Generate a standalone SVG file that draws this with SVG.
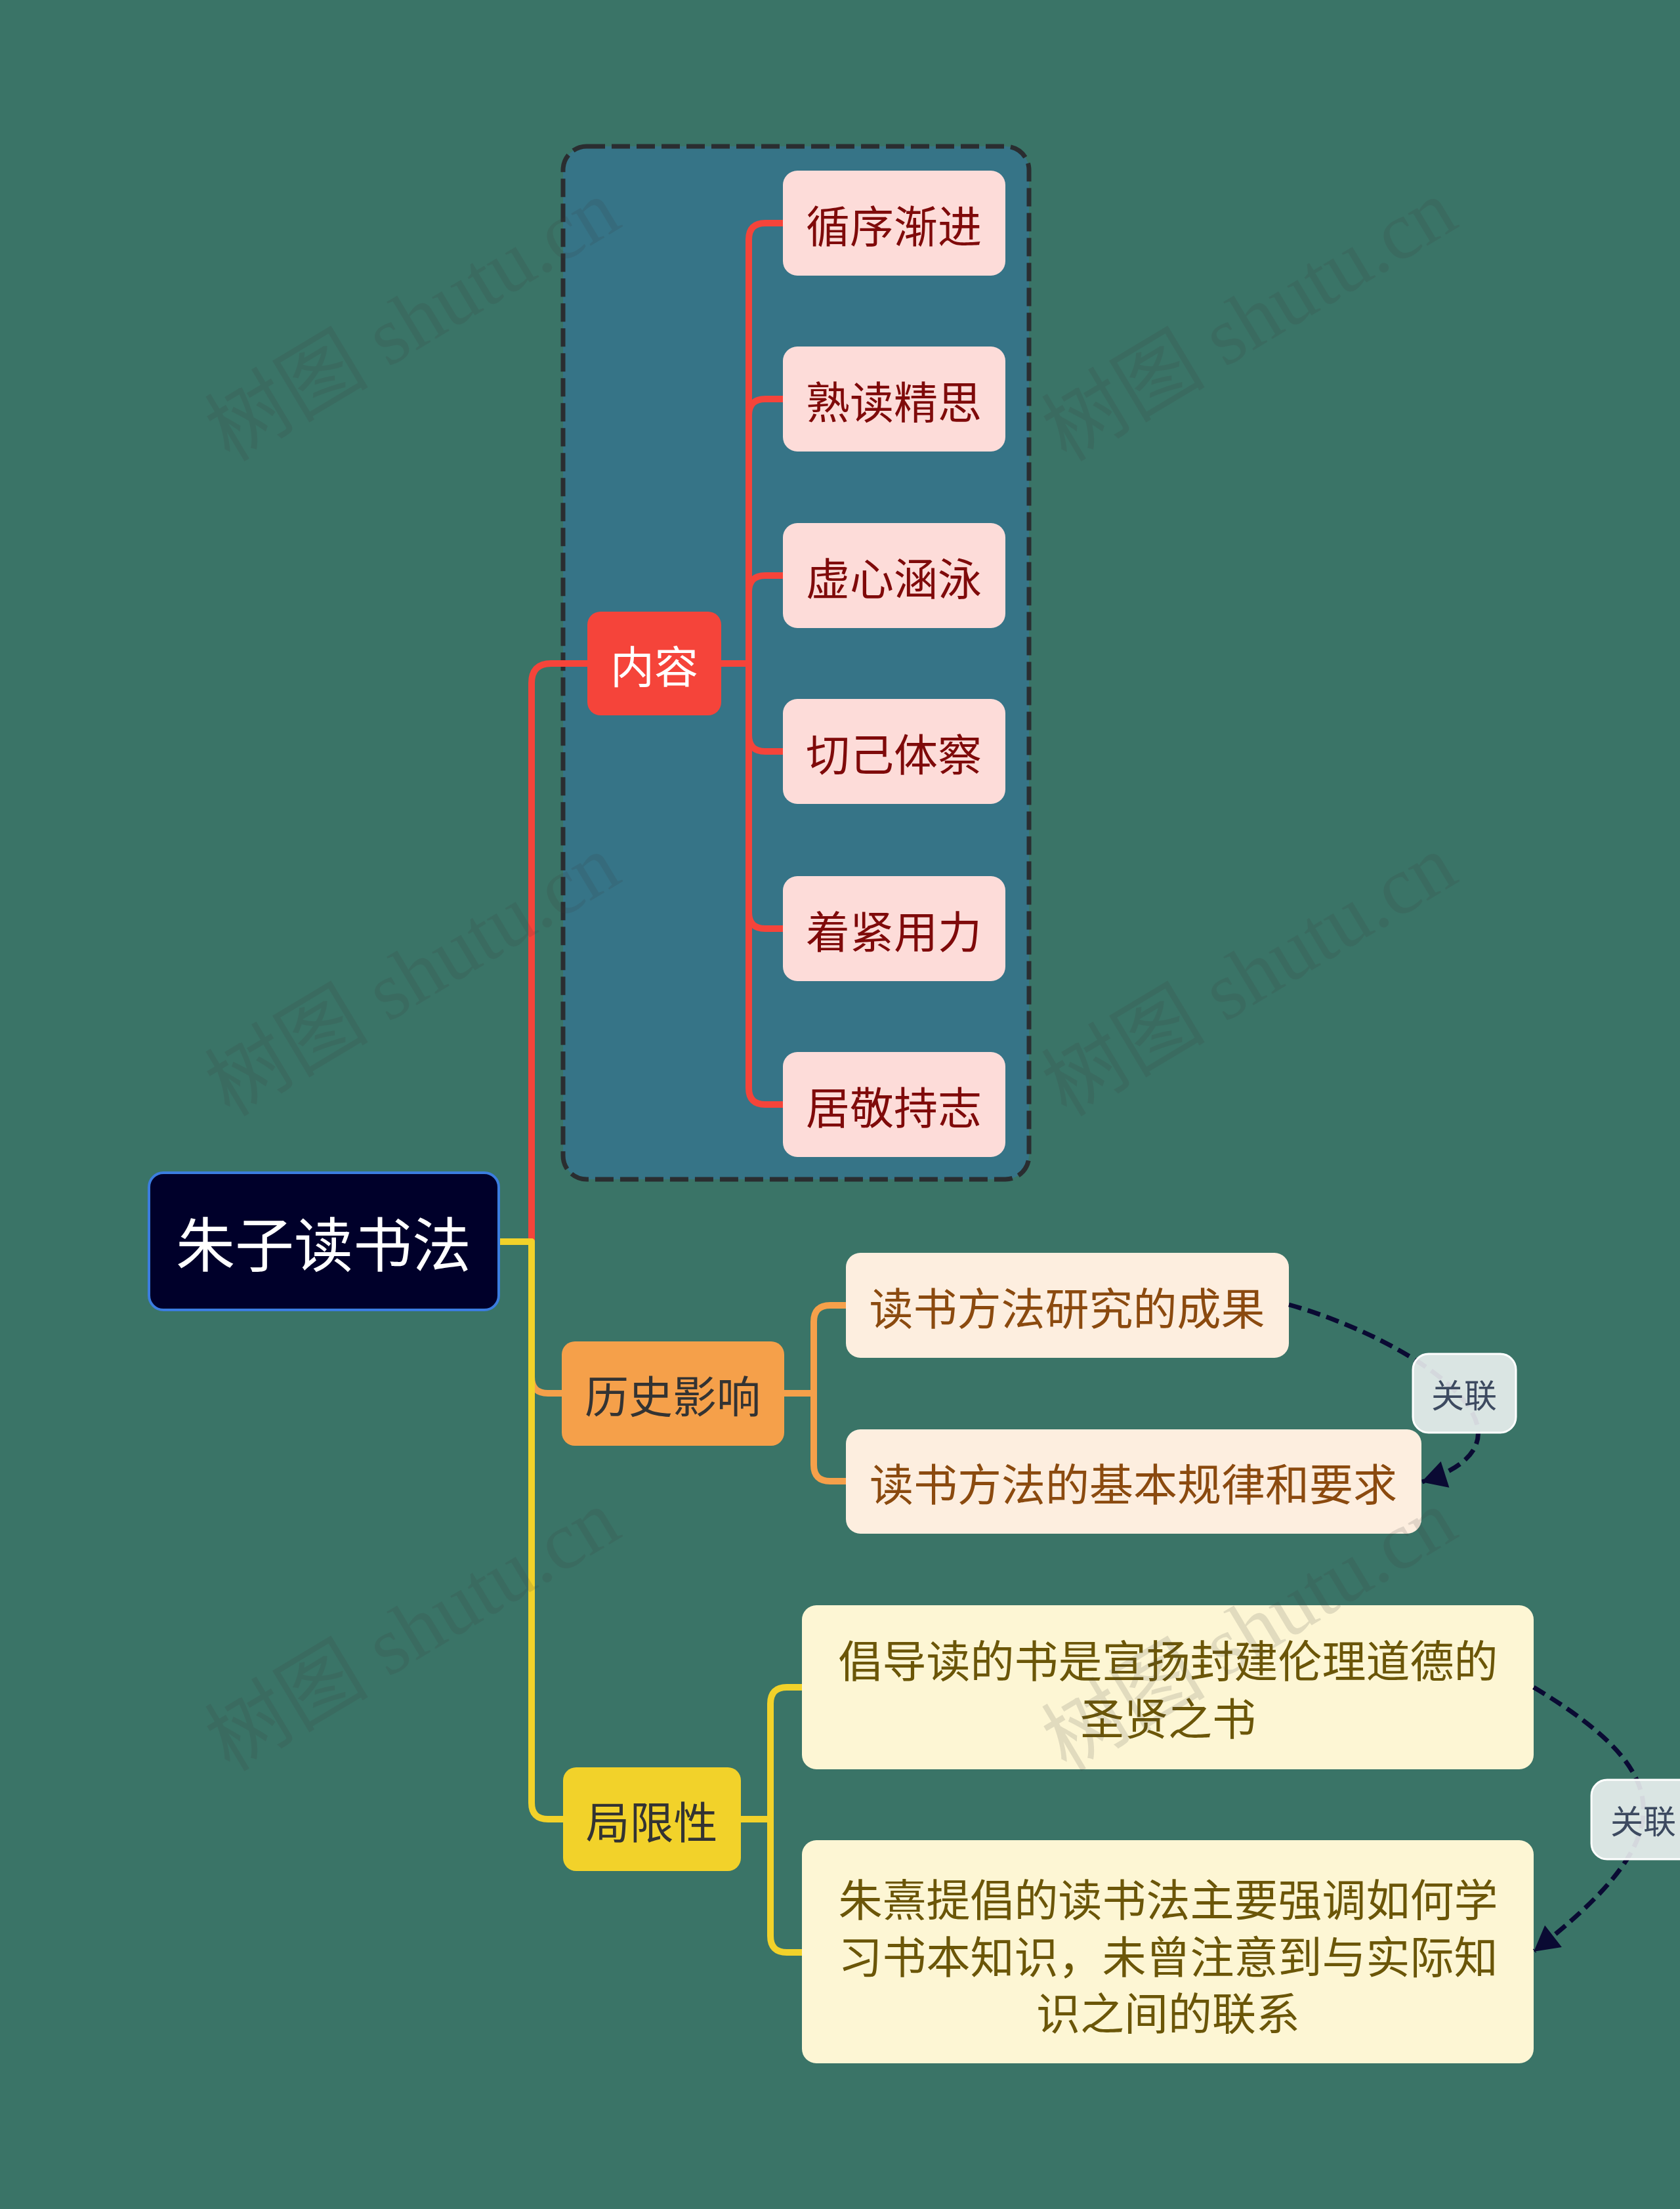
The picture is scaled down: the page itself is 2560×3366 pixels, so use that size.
<svg xmlns="http://www.w3.org/2000/svg" width="2560" height="3366" viewBox="0 0 2560 3366">
<defs>
<style>
text { font-family: 'Noto Sans CJK SC', 'Noto Sans', sans-serif; text-anchor: middle; dominant-baseline: central; }
.t66 { font-size: 67px; }
.branch { fill: none; stroke-width: 10; stroke-linejoin: round; stroke-linecap: butt; }
.red { stroke: #f5443a; }
.orange { stroke: #f5a04a; }
.yellow { stroke: #f2d22a; }
.rel { fill: none; stroke: #0a0a33; stroke-width: 7; stroke-dasharray: 20 10; marker-end: url(#arrow); }
.pink rect { fill: #fddcd9; }
.pink text { fill: #7f0a0a; }
.peach rect { fill: #fdeedf; }
.peach text { fill: #8b4a0f; }
.cream rect { fill: #fdf6d4; }
.cream text { fill: #6b5608; }
.label rect { fill: #f0f5f5; fill-opacity: 0.88; stroke: #ffffff; stroke-width: 3; }
.label text { fill: #3d4a60; font-size: 50px; }
.wm { font-family: 'Liberation Serif', 'Noto Sans CJK SC', serif; font-size: 125px; fill: #3c3c3c; opacity: 0.14; text-anchor: start; dominant-baseline: auto; }
</style>
<marker id="arrow" markerUnits="userSpaceOnUse" markerWidth="40" markerHeight="42" viewBox="0 0 36 40" refX="35" refY="20" orient="auto">
<path d="M0,0 L36,20 L0,40 z" fill="#0a0a33"/>
</marker>
</defs>

<rect x="0" y="0" width="2560" height="3366" fill="#3a7467"/>

<g id="frame">
<rect x="858" y="223" width="710" height="1574" rx="36" fill="#367487" stroke="#2a2d30" stroke-width="7" stroke-dasharray="28 10"/>
</g>

<g id="connectors">
<path class="branch red" d="M760,1892 H810 V1041 Q810,1011 840,1011 H895"/>
<path class="branch orange" d="M760,1892 H810 V2098 Q810,2123 835,2123 H856"/>
<path class="branch yellow" d="M760,1892 H810 V2747 Q810,2772 835,2772 H858"/>

<path class="branch red" d="M1099,1011 H1141 V365 Q1141,340 1166,340 H1193"/>
<path class="branch red" d="M1099,1011 H1141 V633 Q1141,608 1166,608 H1193"/>
<path class="branch red" d="M1099,1011 H1141 V902 Q1141,877 1166,877 H1193"/>
<path class="branch red" d="M1099,1011 H1141 V1120 Q1141,1145 1166,1145 H1193"/>
<path class="branch red" d="M1099,1011 H1141 V1390 Q1141,1415 1166,1415 H1193"/>
<path class="branch red" d="M1099,1011 H1141 V1658 Q1141,1683 1166,1683 H1193"/>

<path class="branch orange" d="M1195,2123 H1240 V2014 Q1240,1989 1265,1989 H1289"/>
<path class="branch orange" d="M1195,2123 H1240 V2232 Q1240,2257 1265,2257 H1289"/>

<path class="branch yellow" d="M1129,2772 H1174 V2596 Q1174,2571 1199,2571 H1222"/>
<path class="branch yellow" d="M1129,2772 H1174 V2950 Q1174,2975 1199,2975 H1222"/>
</g>

<g id="root">
<rect x="227" y="1787" width="533" height="209" rx="22" fill="#00002a" stroke="#3b7de0" stroke-width="4"/>
<text x="493" y="1891" font-size="90" fill="#ffffff">朱子读书法</text>
</g>

<g id="neirong">
<rect x="895" y="932" width="204" height="158" rx="20" fill="#f5443a"/>
<text class="t66" x="997" y="1011" fill="#ffffff">内容</text>
</g>

<g id="c1" class="pink"><rect x="1193" y="260" width="339" height="160" rx="22"/><text class="t66" x="1362" y="340">循序渐进</text></g>
<g id="c2" class="pink"><rect x="1193" y="528" width="339" height="160" rx="22"/><text class="t66" x="1362" y="608">熟读精思</text></g>
<g id="c3" class="pink"><rect x="1193" y="797" width="339" height="160" rx="22"/><text class="t66" x="1362" y="877">虚心涵泳</text></g>
<g id="c4" class="pink"><rect x="1193" y="1065" width="339" height="160" rx="22"/><text class="t66" x="1362" y="1145">切己体察</text></g>
<g id="c5" class="pink"><rect x="1193" y="1335" width="339" height="160" rx="22"/><text class="t66" x="1362" y="1415">着紧用力</text></g>
<g id="c6" class="pink"><rect x="1193" y="1603" width="339" height="160" rx="22"/><text class="t66" x="1362" y="1683">居敬持志</text></g>

<g id="lishi">
<rect x="856" y="2044" width="339" height="159" rx="20" fill="#f5a04a"/>
<text class="t66" x="1025" y="2123" fill="#333333">历史影响</text>
</g>
<g id="h1" class="peach"><rect x="1289" y="1909" width="675" height="160" rx="22"/><text class="t66" x="1626" y="1989">读书方法研究的成果</text></g>
<g id="h2" class="peach"><rect x="1289" y="2178" width="877" height="159" rx="22"/><text class="t66" x="1727" y="2257">读书方法的基本规律和要求</text></g>

<g id="juxian">
<rect x="858" y="2693" width="271" height="158" rx="20" fill="#f2d22a"/>
<text class="t66" x="993" y="2772" fill="#333333">局限性</text>
</g>
<g id="l1" class="cream"><rect x="1222" y="2446" width="1115" height="250" rx="22"/>
<text class="t66"><tspan x="1780" y="2526">倡导读的书是宣扬封建伦理道德的</tspan><tspan x="1780" y="2614">圣贤之书</tspan></text></g>
<g id="l2" class="cream"><rect x="1222" y="2804" width="1115" height="340" rx="22"/>
<text class="t66"><tspan x="1780" y="2890">朱熹提倡的读书法主要强调如何学</tspan><tspan x="1780" y="2977">习书本知识，未曾注意到与实际知</tspan><tspan x="1780" y="3063">识之间的联系</tspan></text></g>

<g id="relations">
<path class="rel" d="M1964,1988 C2150,2040 2380,2190 2167,2258"/>
<path class="rel" d="M2337,2571 C2560,2705 2560,2800 2338,2973"/>
</g>

<g id="rel-label-1" class="label"><rect x="2153" y="2063" width="157" height="120" rx="24"/><text x="2231" y="2123">关联</text></g>
<g id="rel-label-2" class="label"><rect x="2425" y="2712" width="160" height="121" rx="24"/><text x="2504" y="2772">关联</text></g>

<g id="watermarks">
<text class="wm" transform="translate(350,705) rotate(-31)">树图 shutu.cn</text>
<text class="wm" transform="translate(1625,705) rotate(-31)">树图 shutu.cn</text>
<text class="wm" transform="translate(350,1703) rotate(-31)">树图 shutu.cn</text>
<text class="wm" transform="translate(1625,1703) rotate(-31)">树图 shutu.cn</text>
<text class="wm" transform="translate(350,2701) rotate(-31)">树图 shutu.cn</text>
<text class="wm" transform="translate(1625,2701) rotate(-31)">树图 shutu.cn</text>
</g>
</svg>
